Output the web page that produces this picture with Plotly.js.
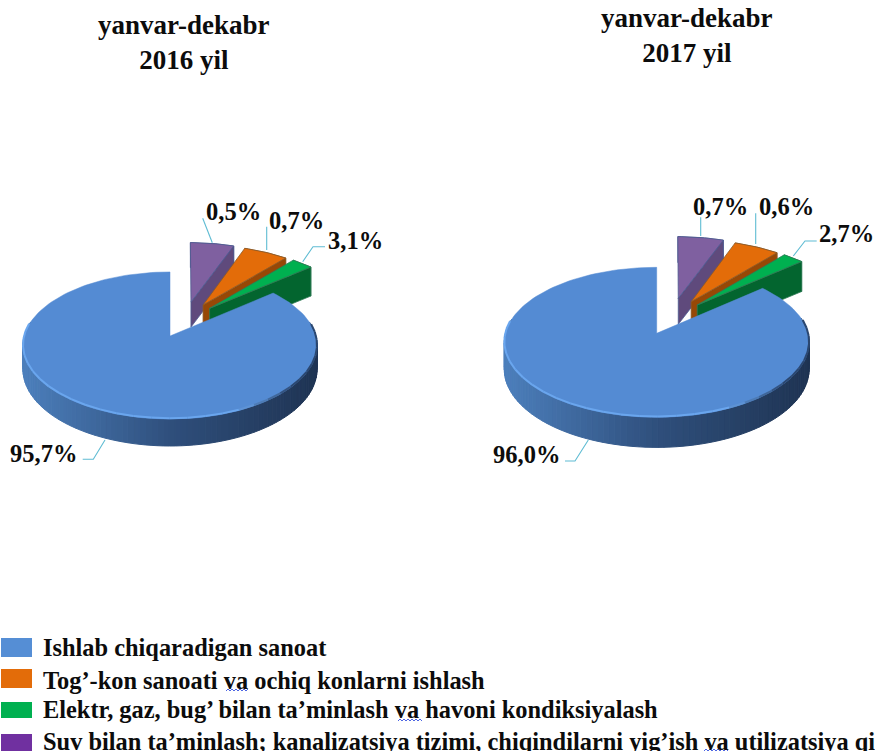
<!DOCTYPE html>
<html><head><meta charset="utf-8">
<script src="https://cdn.plot.ly/plotly-3.0.1.min.js"></script>
<style>html,body{margin:0;padding:0;background:#fff;overflow:hidden}#c{width:875px;height:751px}</style>
</head><body><div id="c"></div>
<script>
// ---------- data ----------
const categories = ["Ishlab chiqaradigan sanoat","Tog’-kon sanoati va ochiq konlarni ishlash","Elektr, gaz, bug’ bilan ta’minlash va havoni kondiksiyalash","Suv bilan ta’minlash; kanalizatsiya tizimi, chiqindilarni yig’ish va utilizatsiya qi"];
const labels2016 = ["95,7%","0,7%","3,1%","0,5%"];
const labels2017 = ["96,0%","0,6%","2,7%","0,7%"];
// slice spans as drawn in the picture, in degrees (the picture's slices are not proportional to the printed shares)
const drawn2016 = [310.5,20,9.5,19.7];
const drawn2017 = [311,19.5,9,19.7];
const titles = ["yanvar-dekabr<br>2016 yil","yanvar-dekabr<br>2017 yil"];
// ---------- style / layout ----------
const topCol = ["#548bd3","#e36c09","#00b050","#7f60a0"];
const sideCol = ["#3f6ba3","#974806","#03652f","#5f4a7c"];
const swatchCol = ["#558ed5","#e36c09","#00b050","#7030a0"];
const edgeCol = ["#548bd3","#8a5a2a","#2f7a55","#4d5a90"];
const leaderCol = "#5fbcd3";
const order = [3,1,2]; // clockwise from just past 12 o'clock, painted back to front
const firstDeg = 0.8;
const pies = [
 {cx:170,cy:336,rx:145.8,a:72.3,b:0.129,thick:23.5,wedgeT:[0,26,29,25],spans:drawn2016,labels:labels2016,
  offs:{3:[.153,-.5,1.05],1:[.24,-.454,1.05],2:[.286,-.403,1.065]},
  lab:[[43.7,453],[296.7,220.7],[355.5,240],[233,211.7]],
  lead:[[[82.7,459.3],[93.3,459.3],[105,440]],[[266.7,226.7],[266.7,250]],[[325,246.7],[313,246.7],[302.7,261.7]],[[202.7,218.3],[212.3,242.7]]],
  title:[184,42]},
 {cx:656.7,cy:333.3,rx:151.3,a:73.9,b:0.12,thick:26.5,wedgeT:[0,26,30,26],spans:drawn2017,labels:labels2017,
  offs:{3:[.151,-.502,1.05],1:[.24,-.45,1.05],2:[.281,-.401,1.065]},
  lab:[[526.7,454.3],[786,206],[846.5,233],[720,206]],
  lead:[[[565,461],[575,461],[588.3,440]],[[755.7,213.3],[755.7,244]],[[816.7,241],[805,241],[793.3,256]],[[700.7,217.3],[700.7,236]]],
  title:[687,35]}
];
const legendY = [[638,657],[669,688],[702,718],[734,751]];
const legendTextY = [647.5,680,709.5,741];
const squiggles = [[226,249,690],[398,423,720],[704,729,750]];

function mix(c1,c2,t){const p=s=>[1,3,5].map(i=>parseInt(s.substr(i,2),16));const A=p(c1),B=p(c2);
  return "rgb("+A.map((v,i)=>Math.round(v+(B[i]-v)*t)).join(",")+")";}
const rad=d=>d*Math.PI/180;
const traces=[],annotations=[],shapes=[];
function poly(pts,fill,lineCol,w){const c=pts.concat([pts[0]]);traces.push({type:"scatter",mode:"lines",x:c.map(p=>p[0]),y:c.map(p=>p[1]),
  fill:"toself",fillcolor:fill,line:{color:lineCol||fill,width:w===undefined?0.8:w},hoverinfo:"skip",showlegend:false});}
function line(pts,col,w){traces.push({type:"scatter",mode:"lines",x:pts.map(p=>p[0]),y:pts.map(p=>p[1]),
  line:{color:col,width:w},hoverinfo:"skip",showlegend:false});}
const serif="Liberation Serif, Times New Roman, serif";

pies.forEach((P)=>{
  const proj=(u,v)=>{const w=1-P.b*v;return [P.cx+P.rx*u/w,P.cy+P.a*v/w];};
  const onRim=(deg,r,o)=>proj(o[0]+r*Math.sin(rad(deg)),o[1]-r*Math.cos(rad(deg)));
  const down=(p,t)=>[p[0],p[1]+t];
  let ang=firstDeg;
  order.forEach(i=>{
    const s=ang,e=ang+P.spans[i];ang=e;
    const o=P.offs[i],r=o[2],t=P.wedgeT[i];
    const apex=proj(o[0],o[1]);
    const arc=[];for(let k=0;k<=12;k++)arc.push(onRim(s+(e-s)*k/12,r,o));
    const last=arc[arc.length-1];
    poly(arc.concat(arc.slice().reverse().map(p=>down(p,t))),sideCol[i],edgeCol[i]);
    poly([apex,last,down(last,t),down(apex,t)],sideCol[i],edgeCol[i]);
    poly([apex].concat(arc),topCol[i],edgeCol[i]);
  });
  // large slice: begins where the small ones end
  const s0=ang,e0=360,o0=[0,0];
  const N=150,arc=[];for(let k=0;k<=N;k++)arc.push(onRim(s0+(e0-s0)*k/N,1,o0));
  const tAt=d=>{const v=-Math.cos(rad(d));return P.thick/(1-P.b*v);};
  const xMin=P.cx-P.rx*1.01,xMax=P.cx+P.rx*1.01;
  for(let k=0;k<N;k++){
    const d1=s0+(e0-s0)*k/N,d2=s0+(e0-s0)*(k+1)/N;
    const A=arc[k],B=arc[k+1];
    if(Math.cos(rad((d1+d2)/2))>0.2)continue; // back part is hidden by the top face
    const f=((A[0]+B[0])/2-xMin)/(xMax-xMin);
    const col=f<0.5?mix("#4c7fbc","#2f4f7c",f/0.5):mix("#2f4f7c","#1f3453",(f-0.5)/0.5);
    poly([A,B,down(B,tAt(d2)),down(A,tAt(d1))],col,col,1);
  }
  poly([[P.cx,P.cy]].concat(arc),topCol[0],topCol[0],0.5);
  // bevel rim
  const step=3;
  for(let k=0;k<N;k+=step){
    const A=arc[k],B=arc[Math.min(N,k+step)];
    const f=((A[0]+B[0])/2-xMin)/(xMax-xMin);
    const d=(s0+(e0-s0)*(k+step/2)/N);
    const front=-Math.cos(rad(d));
    if(front<-0.15)continue;
    const col=f<0.72?"#6aa6ee":mix("#6aa6ee","#2b4770",Math.min(1,(f-0.72)/0.2));
    line([[A[0],A[1]-0.8],[B[0],B[1]-0.8]],col,2);
  }
  P.lead.forEach(l=>line(l,leaderCol,1.1));
  P.labels.forEach((txt,i)=>annotations.push({x:P.lab[i][0],y:P.lab[i][1],xref:"x",yref:"y",text:"<b>"+txt+"</b>",
    showarrow:false,xanchor:"center",yanchor:"middle",font:{family:serif,size:24.5,color:"#0c0c0c"}}));
});
titles.forEach((t,i)=>annotations.push({x:pies[i].title[0],y:pies[i].title[1],xref:"x",yref:"y",text:"<b>"+t+"</b>",
  showarrow:false,xanchor:"center",yanchor:"middle",align:"center",font:{family:serif,size:27,color:"#0c0c0c"}}));
categories.forEach((c,i)=>{
  shapes.push({type:"rect",xref:"x",yref:"y",x0:1,x1:32,y0:legendY[i][0],y1:legendY[i][1],fillcolor:swatchCol[i],line:{width:0}});
  annotations.push({x:40.5,y:legendTextY[i],xref:"x",yref:"y",text:"<b>"+c+"</b>",showarrow:false,xanchor:"left",yanchor:"middle",
    font:{family:serif,size:24.4,color:"#0c0c0c"}});
});
squiggles.forEach(q=>{const pts=[];let up=0;for(let x=q[0];x<=q[1];x+=2){pts.push([x,q[2]+(up?-1:1)]);up=1-up;}line(pts,"#3a55e0",0.9);});

Plotly.newPlot("c",traces,{
  width:875,height:751,margin:{l:0,r:0,t:0,b:0},paper_bgcolor:"#fff",plot_bgcolor:"#fff",showlegend:false,
  xaxis:{range:[0,875],visible:false,fixedrange:true},
  yaxis:{range:[751,0],visible:false,fixedrange:true},
  annotations:annotations,shapes:shapes,hovermode:false
},{staticPlot:true,displayModeBar:false});
</script></body></html>
